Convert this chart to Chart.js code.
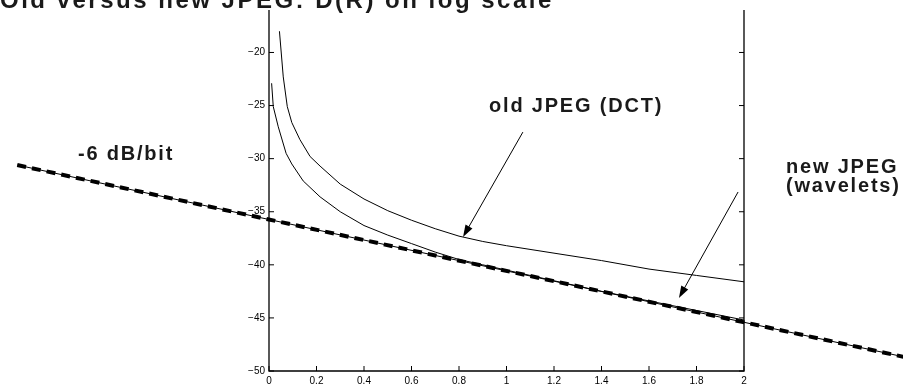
<!DOCTYPE html>
<html>
<head>
<meta charset="utf-8">
<script src="https://cdn.jsdelivr.net/npm/chart.js@4"></script>
<style>
  html, body { margin: 0; padding: 0; background: #fff; }
</style>
</head>
<body>
<canvas id="grafico" width="903" height="386"></canvas>
<script>
// valores
const oldX = [0.044, 0.06, 0.077, 0.096, 0.13, 0.173, 0.215, 0.3, 0.4, 0.5, 0.6, 0.7, 0.8, 0.9, 1.0, 1.2, 1.4, 1.6, 1.8, 2.0];
const oldY = [-18.0, -22.3, -25.1, -26.6, -28.2, -29.8, -30.7, -32.4, -33.8, -34.9, -35.8, -36.6, -37.3, -37.8, -38.2, -38.9, -39.6, -40.4, -41.0, -41.6];

const newX = [0.011, 0.018, 0.039, 0.072, 0.096, 0.144, 0.215, 0.3, 0.4, 0.5, 0.6, 0.7, 0.8, 0.9, 1.0, 1.2, 1.4, 1.6, 1.8, 2.0];
const newY = [-22.9, -25.1, -27.0, -29.5, -30.5, -32.1, -33.6, -35.0, -36.3, -37.2, -38.0, -38.8, -39.5, -40.0, -40.5, -41.5, -42.5, -43.4, -44.3, -45.2];

const slopeX = [-1.06, 2.7];
const slopeY = [-30.6, -48.8];

const xTicks = [0, 0.2, 0.4, 0.6, 0.8, 1, 1.2, 1.4, 1.6, 1.8, 2];
const xTickLabels = ['0', '0.2', '0.4', '0.6', '0.8', '1', '1.2', '1.4', '1.6', '1.8', '2'];
const yTicks = [-50, -45, -40, -35, -30, -25, -20];
const yTickLabels = ['\u221250', '\u221245', '\u221240', '\u221235', '\u221230', '\u221225', '\u221220'];

const titulo = 'Old versus new JPEG: D(R) on log scale';

// anotações (coordenadas em valores dos eixos)
const textos = [
    { texto: '-6 dB/bit', x: -0.602, y: -30.1, alinhar: 'center' },
    { texto: 'old JPEG (DCT)', x: 1.293, y: -25.6, alinhar: 'center' },
    { texto: 'new JPEG', x: 2.177, y: -31.35, alinhar: 'left' },
    { texto: '(wavelets)', x: 2.177, y: -33.15, alinhar: 'left' }
];
const setas = [
    { de: [1.069, -27.5], para: [0.817, -37.38] },
    { de: [1.975, -33.14], para: [1.726, -43.12] }
];

const FONTE = '"Liberation Sans", Arial, Helvetica, sans-serif';

function pontos(xs, ys) {
    return xs.map((v, i) => ({ x: v, y: ys[i] }));
}

function seta(ctx, x1, y1, x2, y2) {
    const ang = Math.atan2(y2 - y1, x2 - x1);
    const comp = 12, meia = 4;
    ctx.beginPath();
    ctx.moveTo(x1, y1);
    ctx.lineTo(x2 - Math.cos(ang) * comp * 0.8, y2 - Math.sin(ang) * comp * 0.8);
    ctx.stroke();
    ctx.beginPath();
    ctx.moveTo(x2, y2);
    ctx.lineTo(x2 - Math.cos(ang) * comp - Math.sin(ang) * meia, y2 - Math.sin(ang) * comp + Math.cos(ang) * meia);
    ctx.lineTo(x2 - Math.cos(ang) * comp + Math.sin(ang) * meia, y2 - Math.sin(ang) * comp - Math.cos(ang) * meia);
    ctx.closePath();
    ctx.fill();
}

const desenho = {
    id: 'desenho',
    afterDraw(chart) {
        const { ctx, chartArea: a, scales: { x, y } } = chart;
        ctx.save();
        ctx.strokeStyle = '#000';
        ctx.fillStyle = '#000';

        // eixos
        ctx.lineWidth = 1.3;
        ctx.beginPath();
        ctx.moveTo(a.left, a.top);
        ctx.lineTo(a.left, a.bottom);
        ctx.lineTo(a.right, a.bottom);
        ctx.lineTo(a.right, a.top);
        ctx.stroke();

        // marcas para dentro
        ctx.lineWidth = 1;
        ctx.beginPath();
        xTicks.forEach(v => {
            const px = x.getPixelForValue(v);
            ctx.moveTo(px, a.bottom);
            ctx.lineTo(px, a.bottom - 5);
        });
        yTicks.forEach(v => {
            const py = y.getPixelForValue(v);
            ctx.moveTo(a.left, py);
            ctx.lineTo(a.left + 5, py);
            ctx.moveTo(a.right, py);
            ctx.lineTo(a.right - 5, py);
        });
        ctx.stroke();

        // setas
        ctx.lineWidth = 1;
        setas.forEach(s => {
            seta(ctx,
                x.getPixelForValue(s.de[0]), y.getPixelForValue(s.de[1]),
                x.getPixelForValue(s.para[0]), y.getPixelForValue(s.para[1]));
        });

        // textos
        ctx.textBaseline = 'alphabetic';
        ctx.font = 'bold 20px ' + FONTE;
        ctx.letterSpacing = '1.8px';
        ctx.fillStyle = '#1a1a1a';
        textos.forEach(t => {
            ctx.textAlign = t.alinhar;
            ctx.fillText(t.texto, x.getPixelForValue(t.x), y.getPixelForValue(t.y));
        });

        // título (cortado no topo)
        ctx.font = 'bold 24px ' + FONTE;
        ctx.letterSpacing = '2.5px';
        ctx.textAlign = 'left';
        ctx.fillText(titulo, 0, 8);
        ctx.restore();
    }
};

function inicializarGrafico() {
    const ctx = document.getElementById('grafico').getContext('2d');
    return new Chart(ctx, {
        type: 'scatter',
        data: {
            datasets: [
                {
                    label: 'old JPEG (DCT)',
                    data: pontos(oldX, oldY),
                    showLine: true,
                    borderColor: '#000',
                    borderWidth: 1,
                    pointRadius: 0,
                    tension: 0
                },
                {
                    label: 'new JPEG (wavelets)',
                    data: pontos(newX, newY),
                    showLine: true,
                    borderColor: '#000',
                    borderWidth: 1,
                    pointRadius: 0,
                    tension: 0
                },
                {
                    label: '-6 dB/bit base',
                    data: pontos(slopeX, slopeY),
                    showLine: true,
                    borderColor: '#000',
                    borderWidth: 1,
                    pointRadius: 0,
                    clip: false
                },
                {
                    label: '-6 dB/bit',
                    data: pontos(slopeX, slopeY),
                    showLine: true,
                    borderColor: '#000',
                    borderWidth: 4,
                    borderDash: [9, 6],
                    borderCapStyle: 'butt',
                    pointRadius: 0,
                    clip: false
                }
            ]
        },
        options: {
            responsive: false,
            animation: false,
            devicePixelRatio: 1,
            layout: { padding: { left: 229, right: 159, top: 10, bottom: 0 } },
            plugins: {
                legend: { display: false },
                tooltip: { enabled: false },
                title: { display: false }
            },
            scales: {
                x: {
                    type: 'linear',
                    min: 0,
                    max: 2,
                    grid: { display: false, drawTicks: false },
                    border: { display: false },
                    afterBuildTicks: scale => { scale.ticks = xTicks.map(v => ({ value: v })); },
                    afterFit: scale => { scale.height = 15; },
                    ticks: {
                        padding: 4,
                        color: '#000',
                        maxRotation: 0,
                        autoSkip: false,
                        font: { family: FONTE, size: 10 },
                        callback: (v, i) => xTickLabels[i]
                    }
                },
                y: {
                    type: 'linear',
                    min: -50,
                    max: -16,
                    grid: { display: false, drawTicks: false },
                    border: { display: false },
                    afterBuildTicks: scale => { scale.ticks = yTicks.map(v => ({ value: v })); },
                    afterFit: scale => { scale.width = 40; },
                    ticks: {
                        padding: 4,
                        color: '#000',
                        autoSkip: false,
                        font: { family: FONTE, size: 10 },
                        callback: (v, i) => yTickLabels[i]
                    }
                }
            }
        },
        plugins: [desenho]
    });
}

inicializarGrafico();
</script>
</body>
</html>
